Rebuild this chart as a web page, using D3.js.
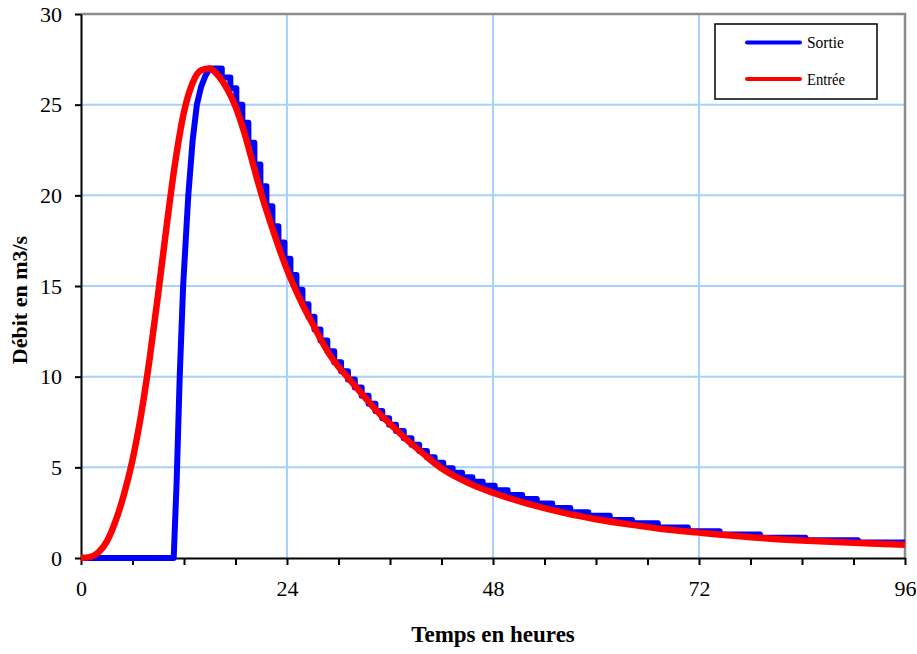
<!DOCTYPE html>
<html>
<head>
<meta charset="utf-8">
<script src="https://cdn.jsdelivr.net/npm/d3@7"></script>
<style>
  body { margin: 0; background: #fff; }
  svg { display: block; font-family: "Liberation Serif", "Times New Roman", serif; }
</style>
</head>
<body>
<div id="chart"></div>
<script>
// Entrée (inflow) hydrograph
const entreeHours = [0, 1, 2, 3, 4, 5, 6, 7, 8, 9, 10, 11, 12, 13, 14, 15, 16, 17, 18, 19, 20,
  21, 22, 23, 24, 25, 26, 27, 28, 29, 30, 31, 32, 33, 34, 35, 36, 37, 38, 39, 40, 41, 42,
  44, 46, 48, 50, 52, 54, 56, 58, 60, 64, 68, 72, 76, 80, 84, 88, 92, 96];
const entreeFlow = [0, 0.05, 0.3, 0.9, 2.0, 3.5, 5.4, 7.9, 11.0, 14.6, 18.4, 21.9, 24.6, 26.2, 26.9, 27.0, 26.6, 25.9, 24.9, 23.5, 21.8,
  20.1, 18.6, 17.2, 15.9, 14.8, 13.8, 12.9, 12.0, 11.2, 10.55, 10.0, 9.45, 8.9, 8.35, 7.85, 7.4, 6.95, 6.5, 6.1, 5.7, 5.3, 4.95,
  4.4, 3.95, 3.6, 3.28, 3.0, 2.75, 2.52, 2.32, 2.14, 1.84, 1.58, 1.40, 1.23, 1.08, 0.97, 0.88, 0.80, 0.73];

// Sortie (outflow): steep rise, then a staircase (each value holds until the next hour)
const sortieRiseHours = [0, 10.8, 11.15, 11.5, 11.9, 12.5, 13.0, 13.5, 14.0, 14.5, 15.0];
const sortieRiseFlow = [0, 0, 4.3, 10.0, 15.0, 20.0, 23.0, 25.0, 26.0, 26.6, 27.0];
const sortieStepHours = [15.0, 16.4, 17.4, 18.1, 18.8, 19.5, 20.2, 20.9, 21.6, 22.3, 23.0, 23.7, 24.4, 25.1, 25.8, 26.5, 27.2, 27.9,
  28.7, 29.5, 30.3, 31.1, 31.9, 32.7, 33.5, 34.3, 35.1, 35.9, 36.7, 37.6, 38.5, 39.4, 40.3, 41.2, 42.2, 43.3,
  44.4, 45.6, 46.8, 48.2, 49.7, 51.4, 53.1, 54.9, 57.0, 59.1, 61.6, 64.2, 67.2, 70.7, 74.4, 79.1, 84.4, 90.5, 96];
const sortieStepFlow = [27.0, 26.5, 25.9, 25.0, 24.0, 22.9, 21.7, 20.5, 19.4, 18.3, 17.4, 16.5, 15.6, 14.8, 14.0, 13.3, 12.6, 12.0,
  11.4, 10.8, 10.3, 9.85, 9.4, 8.95, 8.5, 8.1, 7.7, 7.35, 7.0, 6.6, 6.25, 5.9, 5.55, 5.25, 4.95, 4.7,
  4.45, 4.2, 3.98, 3.74, 3.48, 3.25, 3.0, 2.76, 2.52, 2.33, 2.1, 1.92, 1.68, 1.48, 1.3, 1.12, 0.98, 0.86, 0.86];

const xLabels = [0, 24, 48, 72, 96];
const xTickHours = [0, 6, 12, 18, 24, 30, 36, 42, 48, 54, 60, 66, 72, 78, 84, 90, 96];
const yTicks = [0, 5, 10, 15, 20, 25, 30];
const seriesNames = ["Sortie", "Entrée"];

const blue = "#0000ff", red = "#ff0000", gridColor = "#a6d0ff";

const W = 917, H = 654;
const margin = { top: 14, right: 12, bottom: 96, left: 81 },
    width = W - margin.left - margin.right,
    height = H - margin.top - margin.bottom;

const svgRoot = d3.select("#chart")
    .append("svg")
    .attr("width", W)
    .attr("height", H);

const svg = svgRoot.append("g")
    .attr("transform", `translate(${margin.left},${margin.top})`);

const x = d3.scaleLinear().domain([0, 96]).range([0, width]);
const y = d3.scaleLinear().domain([0, 30]).range([height, 0]);

// grid
svg.append("g")
    .selectAll("line")
    .data(yTicks.filter(d => d > 0 && d < 30))
    .join("line")
    .attr("x1", 0).attr("x2", width)
    .attr("y1", d => y(d)).attr("y2", d => y(d))
    .attr("stroke", gridColor).attr("stroke-width", 2);

svg.append("g")
    .selectAll("line")
    .data(xLabels.filter(d => d > 0 && d < 96))
    .join("line")
    .attr("x1", d => x(d)).attr("x2", d => x(d))
    .attr("y1", 0).attr("y2", height)
    .attr("stroke", gridColor).attr("stroke-width", 2);

// plot frame (top and right in grey)
svg.append("path")
    .attr("d", `M0,${y(30)}H${x(96)}V${y(0)}`)
    .attr("fill", "none")
    .attr("stroke", "#8c8c8c")
    .attr("stroke-width", 2.5);

// Y axis
const yAxis = svg.append("g")
    .call(d3.axisLeft(y).tickValues(yTicks).tickSize(6).tickSizeOuter(0).tickPadding(13));
yAxis.select(".domain").attr("stroke", "#000").attr("stroke-width", 2);
yAxis.selectAll(".tick line").attr("stroke", "#000").attr("stroke-width", 2);
yAxis.selectAll("text")
    .style("font-family", "Liberation Serif")
    .style("font-size", "22px")
    .attr("fill", "#000");

// X axis
const xAxis = svg.append("g")
    .attr("transform", `translate(0,${height})`)
    .call(d3.axisBottom(x).tickValues(xTickHours).tickSize(7).tickSizeOuter(0).tickPadding(15)
        .tickFormat(d => xLabels.includes(d) ? d : ""));
xAxis.select(".domain").attr("stroke", "#000").attr("stroke-width", 2);
xAxis.selectAll(".tick line").attr("stroke", "#000").attr("stroke-width", 2);
xAxis.selectAll("text")
    .style("font-family", "Liberation Serif")
    .style("font-size", "22px")
    .attr("fill", "#000");

// axis titles
svg.append("text")
    .attr("x", width / 2)
    .attr("y", height + 84)
    .attr("text-anchor", "middle")
    .style("font-family", "Liberation Serif")
    .style("font-weight", "bold")
    .style("font-size", "23px")
    .text("Temps en heures");

svg.append("text")
    .attr("transform", "rotate(-90)")
    .attr("x", -(y(30) + y(0)) / 2 - 14)
    .attr("y", -54)
    .attr("text-anchor", "middle")
    .style("font-family", "Liberation Serif")
    .style("font-weight", "bold")
    .style("font-size", "22px")
    .text("Débit en m3/s");

// lines
const sortieData = sortieRiseHours.map((h, i) => ({ h, v: sortieRiseFlow[i] }));
sortieStepHours.forEach((h, i) => {
    if (i > 0) sortieData.push({ h, v: sortieStepFlow[i - 1] });
    sortieData.push({ h, v: sortieStepFlow[i] });
});
const entreeData = entreeHours.map((h, i) => ({ h, v: entreeFlow[i] }));

svg.append("path")
    .datum(sortieData)
    .attr("fill", "none")
    .attr("stroke", blue)
    .attr("stroke-width", 6)
    .attr("stroke-linejoin", "round")
    .attr("d", d3.line().x(d => x(d.h)).y(d => y(d.v)));

svg.append("path")
    .datum(entreeData)
    .attr("fill", "none")
    .attr("stroke", red)
    .attr("stroke-width", 6.5)
    .attr("stroke-linejoin", "round")
    .attr("d", d3.line().x(d => x(d.h)).y(d => y(d.v)).curve(d3.curveMonotoneX));

// legend
const legend = svgRoot.append("g").attr("transform", "translate(715,24)");
legend.append("rect")
    .attr("width", 162).attr("height", 75)
    .attr("fill", "#fff").attr("stroke", "#000").attr("stroke-width", 1.5);
const rows = legend.selectAll("g.row")
    .data(seriesNames)
    .join("g")
    .attr("class", "row")
    .attr("transform", (d, i) => `translate(0,${18.5 + i * 36.5})`);
rows.append("line")
    .attr("x1", 32).attr("x2", 85)
    .attr("stroke", (d, i) => i === 0 ? blue : red)
    .attr("stroke-width", 4)
    .attr("stroke-linecap", "round");
rows.append("text")
    .attr("x", 92)
    .attr("dy", "0.35em")
    .attr("textLength", d => d === "Sortie" ? 37 : 38)
    .attr("lengthAdjust", "spacingAndGlyphs")
    .style("font-size", "16px")
    .text(d => d);
</script>
</body>
</html>
